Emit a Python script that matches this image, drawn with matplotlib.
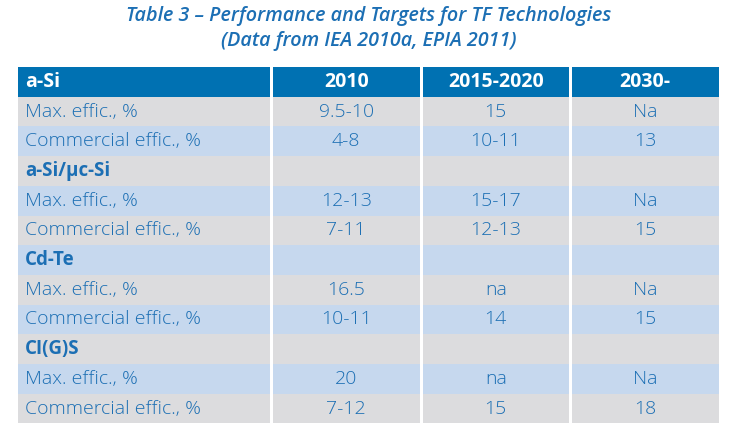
import matplotlib.pyplot as plt
from matplotlib.patches import Rectangle

title_lines = ["Table 3 – Performance and Targets for TF Technologies",
               "(Data from IEA 2010a, EPIA 2011)"]
columns = ["a-Si", "2010", "2015-2020", "2030-"]
row_labels = ["Max. effic., %", "Commercial effic., %", "a-Si/μc-Si",
              "Max. effic., %", "Commercial effic., %", "Cd-Te",
              "Max. effic., %", "Commercial effic., %", "CI(G)S",
              "Max. effic., %", "Commercial effic., %"]
is_group = [False, False, True, False, False, True, False, False, True, False, False]
val_2010 = ["9.5-10", "4-8", "", "12-13", "7-11", "", "16.5", "10-11", "", "20", "7-12"]
val_2015 = ["15", "10-11", "", "15-17", "12-13", "", "na", "14", "", "na", "15"]
val_2030 = ["Na", "13", "", "Na", "15", "", "Na", "15", "", "Na", "18"]

header_bg = "#0071b2"
row_colors = ["#dcdcde", "#c6d8ee"]
text_col = "#1c6fb4"
font = ["Open Sans", "DejaVu Sans"]

fig = plt.figure(figsize=(7.33, 4.30), dpi=100)
ax = fig.add_axes([0, 0, 1, 1])
ax.set_xlim(0, 733)
ax.set_ylim(430, 0)
ax.axis("off")

# column edges (left, right) in pixels
col_edges = [(18, 270), (272.5, 420), (422.5, 569), (571.5, 719)]
top = 67
row_h = 29.7

ax.text(369, 16, title_lines[0], ha="center", va="center", fontsize=14.2,
        style="italic", fontweight="semibold", color=text_col, family=font)
ax.text(369, 41, title_lines[1], ha="center", va="center", fontsize=14.2,
        style="italic", fontweight="semibold", color=text_col, family=font)

# header
for j, (l, r) in enumerate(col_edges):
    ax.add_patch(Rectangle((l, top), r - l, row_h, color=header_bg, lw=0))
    if j == 0:
        ax.text(l + 7, top + row_h / 2, columns[j], ha="left", va="center",
                fontsize=14, fontweight="bold", color="white", family=font)
    else:
        ax.text((l + r) / 2, top + row_h / 2, columns[j], ha="center", va="center",
                fontsize=14, fontweight="bold", color="white", family=font)

values = list(zip(val_2010, val_2015, val_2030))
for i, lab in enumerate(row_labels):
    y0 = top + row_h * (i + 1)
    yc = y0 + row_h / 2
    c = row_colors[i % 2]
    for (l, r) in col_edges:
        ax.add_patch(Rectangle((l, y0), r - l, row_h, color=c, lw=0))
    l0 = col_edges[0][0]
    if is_group[i]:
        ax.text(l0 + 7, yc, lab, ha="left", va="center", fontsize=13.5,
                fontweight="bold", color=text_col, family=font)
    else:
        ax.text(l0 + 7, yc, lab, ha="left", va="center", fontsize=14,
                fontweight="light", color=text_col, family=font)
    for j, v in enumerate(values[i]):
        l, r = col_edges[j + 1]
        ax.text((l + r) / 2, yc, v, ha="center", va="center", fontsize=14,
                fontweight="light", color=text_col, family=font)

fig.savefig("out.png", dpi=100)
